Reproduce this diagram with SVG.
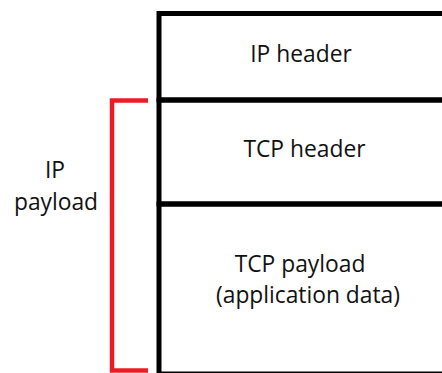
<svg xmlns="http://www.w3.org/2000/svg" width="442" height="373" viewBox="0 0 442 373">
<style>
.box{fill:none;stroke:#000;stroke-width:5}
.lbl{font-family:"Open Sans","Liberation Sans",sans-serif;font-size:22.8px;fill:#111;text-anchor:middle}
.br{fill:none;stroke:#ED1C24;stroke-width:4.5}
</style>
<rect width="442" height="373" fill="#fff"/>
<g id="ip-header">
<rect class="box" x="159" y="13.5" width="300" height="86.5"/>
<text class="lbl" x="301" y="62">IP header</text>
</g>
<g id="tcp-header">
<rect class="box" x="159" y="100" width="300" height="104"/>
<text class="lbl" x="304.5" y="157">TCP header</text>
</g>
<g id="tcp-payload">
<rect class="box" x="159" y="204" width="300" height="170"/>
<text class="lbl" x="300" y="272">TCP payload</text>
<text class="lbl" x="308" y="303">(application data)</text>
</g>
<g id="ip-payload">
<polyline class="br" points="148,100.5 112,100.5 112,370.5 148,370.5"/>
<text class="lbl" x="55" y="178">IP</text>
<text class="lbl" x="56" y="210">payload</text>
</g>
</svg>
